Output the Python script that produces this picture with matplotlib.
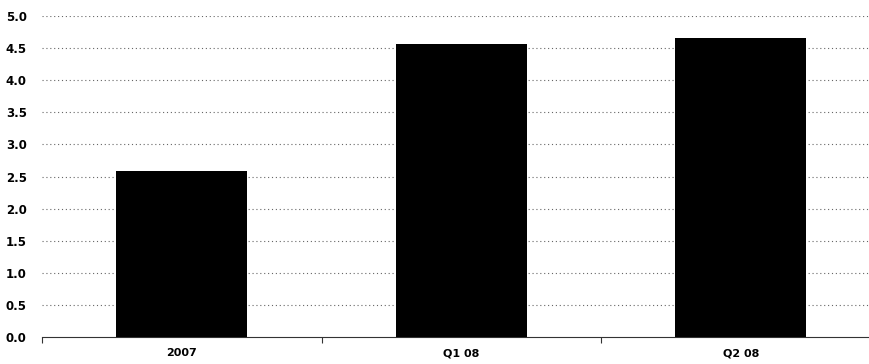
import matplotlib
matplotlib.use("Agg")
import matplotlib.pyplot as plt
from matplotlib.ticker import FixedLocator

categories = ["2007", "Q1 08", "Q2 08"]
values = [2.58, 4.57, 4.66]
yticks = [0.0, 0.5, 1.0, 1.5, 2.0, 2.5, 3.0, 3.5, 4.0, 4.5, 5.0]

fig = plt.figure(figsize=(8.69, 3.64), dpi=100)
ax = fig.add_axes([42 / 869, 27 / 364, 827 / 869, 321 / 364])

x = range(len(categories))
ax.bar(x, values, width=0.47, color="black", zorder=3)

ax.set_ylim(0, 5.0)
ax.set_xlim(-0.5, 827 / 279.5 - 0.5)
ax.set_yticks(yticks)
ax.set_yticklabels([f"{v:.1f}" for v in yticks], fontsize=8.5, fontweight="bold")
ax.tick_params(axis="y", length=0, pad=11)
for y in yticks[1:]:
    ax.axhline(y, color="#666666", lw=0.8, ls=(0, (1, 2.5)), zorder=1)

ax.set_xticks(list(x))
ax.set_xticklabels(categories, fontsize=8, fontweight="semibold")
ax.tick_params(axis="x", length=0, pad=8)
ax.xaxis.set_minor_locator(FixedLocator([-0.5, 0.5, 1.5, 2.5]))
ax.tick_params(axis="x", which="minor", length=4, width=0.8, color="#333333")

for s in ("left", "right", "top"):
    ax.spines[s].set_visible(False)
ax.spines["bottom"].set_color("#333333")
ax.spines["bottom"].set_linewidth(0.8)

fig.savefig("out.png", dpi=100)
